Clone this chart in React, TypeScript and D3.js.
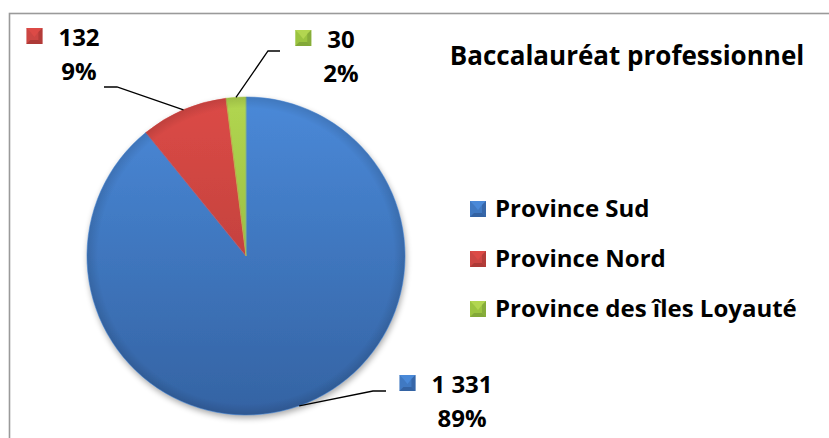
import React from "react";
import * as d3 from "d3";

const categories = ["Province Sud", "Province Nord", "Province des îles Loyauté"];
const values = [1331, 132, 30];
const valueLabels = ["1 331", "132", "30"];
const title = "Baccalauréat professionnel";

const colors = [
  { base: "#4079c2", light: "#4a89d8", dark: "#3463a3" },
  { base: "#cc4643", light: "#dc4a46", dark: "#ad3a37" },
  { base: "#9bc440", light: "#b2d650", dark: "#82a838" },
];

// layout of label blocks (center of text column, baseline) and leader-line elbow
const labelLayout = [
  { x: 462, y: 393, elbowX: 373, endX: 386, lineY: 391 },
  { x: 79, y: 46, elbowX: 117, endX: 104, lineY: 87 },
  { x: 341, y: 48, elbowX: 268, endX: 280, lineY: 51 },
];

const W = 829;
const H = 438;
const cx = 246;
const cy = 256;
const R = 159;
const FONT = "'Open Sans', 'DejaVu Sans', sans-serif";
const FS = 24;

function measure(t: string, size: number) {
  const c = document.createElement("canvas").getContext("2d");
  if (!c) return t.length * size * 0.55;
  c.font = `bold ${size}px 'Open Sans'`;
  return c.measureText(t).width;
}

function Marker({ x, y, c }: { x: number; y: number; c: any }) {
  const s = 16;
  const b = 4;
  return (
    <g transform={`translate(${x},${y})`}>
      <rect width={s} height={s} fill={c.base} />
      <polygon points={`0,0 ${s},0 ${s - b},${b} ${b},${b}`} fill={c.light} />
      <polygon points={`0,${s} ${s},${s} ${s - b},${s - b} ${b},${s - b}`} fill={c.dark} />
      <polygon points={`${s},0 ${s - b},${b} ${s - b},${s - b} ${s},${s}`} fill={c.dark} opacity={0.8} />
      <polygon points={`${b},${b} ${s - b},${b} ${s / 2},${s / 2 + 1}`} fill={c.light} />
    </g>
  );
}

export default function App() {
  const total = d3.sum(values);
  const pie = d3.pie<number>().sort(null).value((d) => d);
  const arcs = pie(values);
  const arcGen = d3.arc<d3.PieArcDatum<number>>().innerRadius(0).outerRadius(R);
  const pct = values.map((v) => d3.format(".0%")(v / total));

  return (
    <svg width={W} height={H} style={{ position: "absolute", left: 0, top: 0 }}>
      <defs>
        {colors.map((c, i) => (
          <linearGradient key={i} id={`g${i}`} x1={0} y1={-R} x2={0} y2={R} gradientUnits="userSpaceOnUse">
            <stop offset="0" stopColor={c.light} />
            <stop offset="1" stopColor={c.dark} />
          </linearGradient>
        ))}
        <radialGradient id="rim" cx={cx} cy={cy} r={R} gradientUnits="userSpaceOnUse">
          <stop offset="0.93" stopColor="#000" stopOpacity={0} />
          <stop offset="1" stopColor="#000" stopOpacity={0.12} />
        </radialGradient>
        <filter id="shadow" x="-20%" y="-20%" width="140%" height="140%">
          <feGaussianBlur in="SourceAlpha" stdDeviation="3" />
          <feOffset dx="1" dy="3" result="b" />
          <feComponentTransfer>
            <feFuncA type="linear" slope="0.35" />
          </feComponentTransfer>
          <feMerge>
            <feMergeNode />
            <feMergeNode in="SourceGraphic" />
          </feMerge>
        </filter>
      </defs>
      <rect x={0} y={0} width={W} height={H} fill="#fff" />
      <rect x={9.5} y={13.5} width={W + 10} height={H + 10} fill="none" stroke="#9a9a9a" strokeWidth={1.6} />

      <g transform={`translate(${cx},${cy})`}>
        <g filter="url(#shadow)">
          {arcs.map((a, i) => (
            <path key={i} d={arcGen(a) || ""} fill={`url(#g${i})`} />
          ))}
        </g>
        {arcs.map((a, i) => (
          <path key={`s${i}`} d={arcGen(a) || ""} fill="none" stroke={colors[i].light} strokeOpacity={0.6} strokeWidth={1} />
        ))}
      </g>
      <circle cx={cx} cy={cy} r={R} fill="url(#rim)" pointerEvents="none" />

      {arcs.map((a, i) => {
        const mid = (a.startAngle + a.endAngle) / 2;
        const px = cx + R * Math.sin(mid);
        const py = cy - R * Math.cos(mid);
        const L = labelLayout[i];
        return (
          <polyline key={`l${i}`} points={`${px},${py} ${L.elbowX},${L.lineY} ${L.endX},${L.lineY}`}
            fill="none" stroke="#000" strokeWidth={1.3} />
        );
      })}

      {arcs.map((a, i) => {
        const L = labelLayout[i];
        const w = measure(valueLabels[i], FS);
        return (
          <g key={`t${i}`} fontFamily={FONT} fontWeight="bold" fontSize={FS} fill="#000">
            <Marker x={L.x - w / 2 - 32} y={L.y - 18} c={colors[i]} />
            <text x={L.x} y={L.y} textAnchor="middle">{valueLabels[i]}</text>
            <text x={L.x} y={L.y + 34} textAnchor="middle">{pct[i]}</text>
          </g>
        );
      })}

      <text x={627} y={65} textAnchor="middle" fontFamily={FONT} fontWeight="bold" fontSize={26}>{title}</text>

      {categories.map((c, i) => (
        <g key={`lg${i}`}>
          <Marker x={470} y={201 + i * 50} c={colors[i]} />
          <text x={495} y={217 + i * 50} fontFamily={FONT} fontWeight="bold" fontSize={FS}>{c}</text>
        </g>
      ))}
    </svg>
  );
}
